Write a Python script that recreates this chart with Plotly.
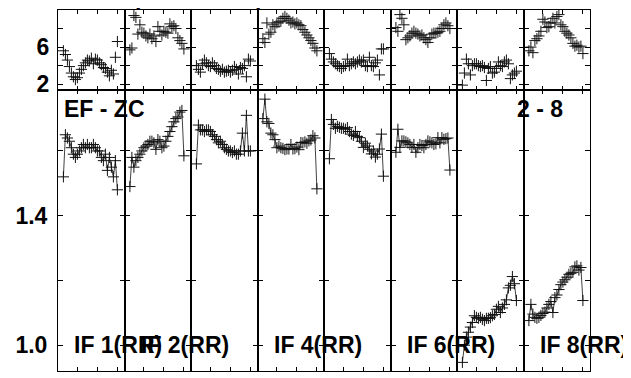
import plotly.graph_objects as go

# ---------------- data ----------------
channels = list(range(3, 31))
if_labels = ["IF 1(RR)", "IF 2(RR)", "", "IF 4(RR)", "", "IF 6(RR)", "", "IF 8(RR)"]
title_text = "and EF IF 1 (EF Mode 1)"
baseline_label = "EF - ZC"
range_label = "2 - 8"

phase_if1 = [5.6, 5.2, 4.6, 3.9, 3.2, 2.8, 2.5, 2.7, 3.2, 3.6, 4.0, 4.3, 4.6, 4.5, 4.8, 4.2, 4.7, 4.6, 4.3, 4.1, 3.8, 3.7, 3.3, 2.9, 3.5, 3.1, 4.9, 6.6]
phase_if2 = [5.7, 5.9, 9.4, 9.2, 7.4, 8.4, 7.6, 7.5, 7.2, 7.0, 7.4, 6.9, 7.2, 6.6, 8.2, 7.7, 7.3, 7.7, 7.6, 7.5, 8.5, 8.2, 8.3, 8.0, 7.0, 6.7, 6.4, 5.8]
phase_if3 = [4.0, 3.6, 3.3, 4.2, 4.6, 4.3, 4.0, 3.9, 4.3, 4.0, 3.7, 3.6, 3.4, 3.6, 3.3, 3.4, 3.5, 3.3, 3.5, 3.9, 3.6, 3.1, 3.8, 3.7, 4.0, 2.8, 4.7, 4.5]
phase_if4 = [6.9, 6.5, 8.6, 7.4, 7.6, 8.4, 8.2, 8.6, 8.7, 8.8, 9.1, 9.3, 9.1, 8.9, 8.6, 8.7, 8.5, 8.6, 8.4, 8.3, 7.9, 7.6, 7.3, 7.0, 6.7, 6.4, 5.9, 5.6]
phase_if5 = [5.3, 4.7, 4.4, 4.2, 4.0, 3.9, 3.7, 3.9, 4.0, 4.7, 4.0, 4.2, 4.4, 4.2, 4.4, 4.6, 4.4, 4.6, 4.0, 3.9, 4.9, 4.0, 3.9, 4.3, 4.6, 3.0, 5.8, 5.8]
phase_if6 = [8.1, 7.7, 9.5, 9.1, 8.4, 6.8, 7.0, 7.2, 7.5, 7.7, 7.5, 7.4, 7.2, 7.3, 7.0, 6.8, 6.5, 7.0, 7.4, 7.5, 7.5, 7.6, 7.7, 8.0, 8.4, 8.6, 8.3, 8.0]
phase_if7 = [1.9, 3.2, 4.7, 4.2, 3.0, 4.0, 4.2, 4.2, 4.0, 3.9, 4.0, 3.8, 2.4, 3.7, 3.9, 3.2, 3.3, 3.7, 4.4, 4.0, 3.9, 4.4, 4.6, 4.2, 2.6, 3.0, 3.2, 3.4]
phase_if8 = [5.6, 6.0, 5.4, 6.7, 6.9, 7.2, 7.7, 9.0, 8.7, 8.1, 8.2, 8.6, 9.1, 8.6, 9.3, 9.5, 8.4, 8.2, 7.7, 7.5, 7.3, 7.0, 6.4, 6.1, 6.2, 6.0, 6.1, 5.3]

amp_if1 = [1.52, 1.65, 1.64, 1.63, 1.61, 1.59, 1.58, 1.59, 1.60, 1.61, 1.62, 1.61, 1.62, 1.61, 1.61, 1.62, 1.61, 1.60, 1.60, 1.58, 1.57, 1.59, 1.54, 1.58, 1.55, 1.52, 1.57, 1.48]
amp_if2 = [1.49, 1.58, 1.55, 1.57, 1.58, 1.59, 1.60, 1.61, 1.615, 1.62, 1.63, 1.63, 1.625, 1.605, 1.635, 1.63, 1.61, 1.615, 1.63, 1.645, 1.66, 1.675, 1.69, 1.70, 1.705, 1.72, 1.725, 1.585]
amp_if3 = [1.56, 1.68, 1.665, 1.665, 1.66, 1.665, 1.665, 1.66, 1.65, 1.645, 1.635, 1.625, 1.63, 1.62, 1.61, 1.605, 1.60, 1.60, 1.595, 1.60, 1.59, 1.59, 1.60, 1.655, 1.60, 1.71, 1.60, 1.60]
amp_if4 = [1.70, 1.76, 1.69, 1.685, 1.655, 1.65, 1.635, 1.61, 1.615, 1.61, 1.608, 1.604, 1.606, 1.606, 1.62, 1.606, 1.607, 1.612, 1.604, 1.626, 1.625, 1.628, 1.624, 1.631, 1.634, 1.647, 1.64, 1.483]
amp_if5 = [1.576, 1.697, 1.682, 1.67, 1.676, 1.673, 1.67, 1.67, 1.667, 1.672, 1.66, 1.652, 1.648, 1.66, 1.645, 1.641, 1.63, 1.611, 1.624, 1.615, 1.605, 1.591, 1.60, 1.581, 1.59, 1.606, 1.652, 1.522]
amp_if6 = [1.596, 1.667, 1.611, 1.631, 1.631, 1.628, 1.625, 1.62, 1.611, 1.62, 1.596, 1.61, 1.62, 1.617, 1.61, 1.62, 1.631, 1.628, 1.625, 1.62, 1.622, 1.641, 1.625, 1.641, 1.636, 1.638, 1.64, 1.541]
amp_if7 = [0.947, 1.00, 1.025, 1.04, 1.056, 1.07, 1.091, 1.086, 1.083, 1.086, 1.08, 1.076, 1.083, 1.083, 1.085, 1.091, 1.095, 1.111, 1.12, 1.101, 1.115, 1.126, 1.14, 1.177, 1.185, 1.212, 1.19, 1.138]
amp_if8 = [1.076, 1.126, 1.096, 1.086, 1.083, 1.086, 1.092, 1.098, 1.102, 1.115, 1.126, 1.135, 1.101, 1.147, 1.155, 1.172, 1.187, 1.195, 1.202, 1.21, 1.219, 1.222, 1.225, 1.242, 1.245, 1.232, 1.24, 1.138]

phase_ticks = [2, 4, 6, 8]
phase_ticktext = ["2", "", "6", ""]
amp_ticks = [1.0, 1.2, 1.4, 1.6]
amp_ticktext = ["1.0", "", "1.4", ""]
chan_ticks = [10, 20, 30]

phases = [phase_if1, phase_if2, phase_if3, phase_if4, phase_if5, phase_if6, phase_if7, phase_if8]
amps = [amp_if1, amp_if2, amp_if3, amp_if4, amp_if5, amp_if6, amp_if7, amp_if8]

# ---------------- layout geometry ----------------
# page shows the figure with an 8px body margin, so geometry is laid out
# in figure pixels = reference pixels - 8
OFF = 8
W, H = 631 - OFF, 378 - OFF
left0, pw = 58.0 - OFF, 66.5
top_dom = [(H - (92 - OFF)) / H, (H - (10 - OFF)) / H]
bot_dom = [0.0, (H - (92 - OFF)) / H]
x_range = [0.3, 33.55]
phase_range = [1.33, 10.0]
amp_range = [0.9203, 1.787]

FONT = "Liberation Sans, Arial, Helvetica, sans-serif"
LAB = dict(family=FONT, size=23, color="black", weight="bold")
TICKF = dict(family=FONT, size=23, color="black", weight="bold")

fig = go.Figure()
layout = dict(
    width=W, height=H,
    margin=dict(l=0, r=0, t=0, b=0),
    paper_bgcolor="white", plot_bgcolor="white",
    showlegend=False,
    font=dict(family=FONT, size=22, color="black", weight="bold"),
)

for i in range(8):
    xd = [(left0 + pw * i) / W, (left0 + pw * (i + 1)) / W]
    nt, nb = 2 * i + 1, 2 * i + 2
    xt, yt = f"x{nt}", f"y{nt}"
    xb, yb = f"x{nb}", f"y{nb}"
    ph = phases[i]
    am = amps[i]
    fig.add_trace(go.Scatter(
        x=channels[:len(ph)], y=ph, mode="markers", xaxis=xt, yaxis=yt,
        marker=dict(symbol="cross-thin", size=8, line=dict(width=1, color="#111")),
        cliponaxis=True))
    fig.add_trace(go.Scatter(
        x=channels[:len(am)], y=am, mode="lines+markers", xaxis=xb, yaxis=yb,
        line=dict(color="#111", width=0.8),
        marker=dict(symbol="cross-thin", size=8, line=dict(width=1, color="#111")),
        cliponaxis=True))
    common_x = dict(range=x_range, tickvals=chan_ticks, ticks="inside", ticklen=4,
                    tickcolor="black", showticklabels=False, showgrid=False, zeroline=False,
                    showline=True, linecolor="black", linewidth=1, mirror="ticks")
    layout[f"xaxis{nt}"] = dict(domain=xd, anchor=yt, **common_x)
    layout[f"xaxis{nb}"] = dict(domain=xd, anchor=yb, **common_x)
    layout[f"yaxis{nt}"] = dict(
        domain=top_dom, anchor=xt, range=phase_range, tickvals=phase_ticks,
        ticktext=phase_ticktext, ticks="inside", ticklen=5, tickcolor="black",
        showticklabels=(i == 0), ticklabelstandoff=3, showgrid=False, zeroline=False,
        showline=True, linecolor="black", linewidth=1, mirror="ticks", tickfont=TICKF)
    layout[f"yaxis{nb}"] = dict(
        domain=bot_dom, anchor=xb, range=amp_range, tickvals=amp_ticks,
        ticktext=amp_ticktext, ticks="inside", ticklen=5, tickcolor="black",
        showticklabels=(i == 0), ticklabelstandoff=5, showgrid=False, zeroline=False,
        showline=True, linecolor="black", linewidth=1, mirror="ticks", tickfont=TICKF)

# outward tick halves on the far-left frame (ticks cross the left border)
layout["yaxis17"] = dict(overlaying="y1", anchor="x1", side="left", range=phase_range,
                         tickvals=phase_ticks, ticks="outside", ticklen=5, tickcolor="black",
                         showticklabels=False, showgrid=False, zeroline=False, showline=False)
layout["yaxis18"] = dict(overlaying="y2", anchor="x2", side="left", range=amp_range,
                         tickvals=amp_ticks, ticks="outside", ticklen=5, tickcolor="black",
                         showticklabels=False, showgrid=False, zeroline=False, showline=False)

annotations = []
for i, lab in enumerate(if_labels):
    if lab:
        annotations.append(dict(
            text=lab, xref="paper", yref="paper",
            x=(left0 + pw * i + 14) / W, y=(H - (352 - OFF)) / H,
            xanchor="left", yanchor="middle", showarrow=False, font=LAB))
annotations.append(dict(text=baseline_label, xref="paper", yref="paper",
                        x=(62 - OFF) / W, y=(H - (111 - OFF)) / H,
                        xanchor="left", yanchor="middle", showarrow=False, font=LAB))
annotations.append(dict(text=range_label, xref="paper", yref="paper",
                        x=(515 - OFF) / W, y=(H - (111 - OFF)) / H,
                        xanchor="left", yanchor="middle", showarrow=False, font=LAB))
annotations.append(dict(text=title_text, xref="paper", yref="paper",
                        x=(265 - OFF) / W, y=(H - (-3 - OFF)) / H,
                        xanchor="right", yanchor="middle", showarrow=False, font=LAB))
layout["annotations"] = annotations
fig.update_layout(**layout)

fig.write_html("out.html")
